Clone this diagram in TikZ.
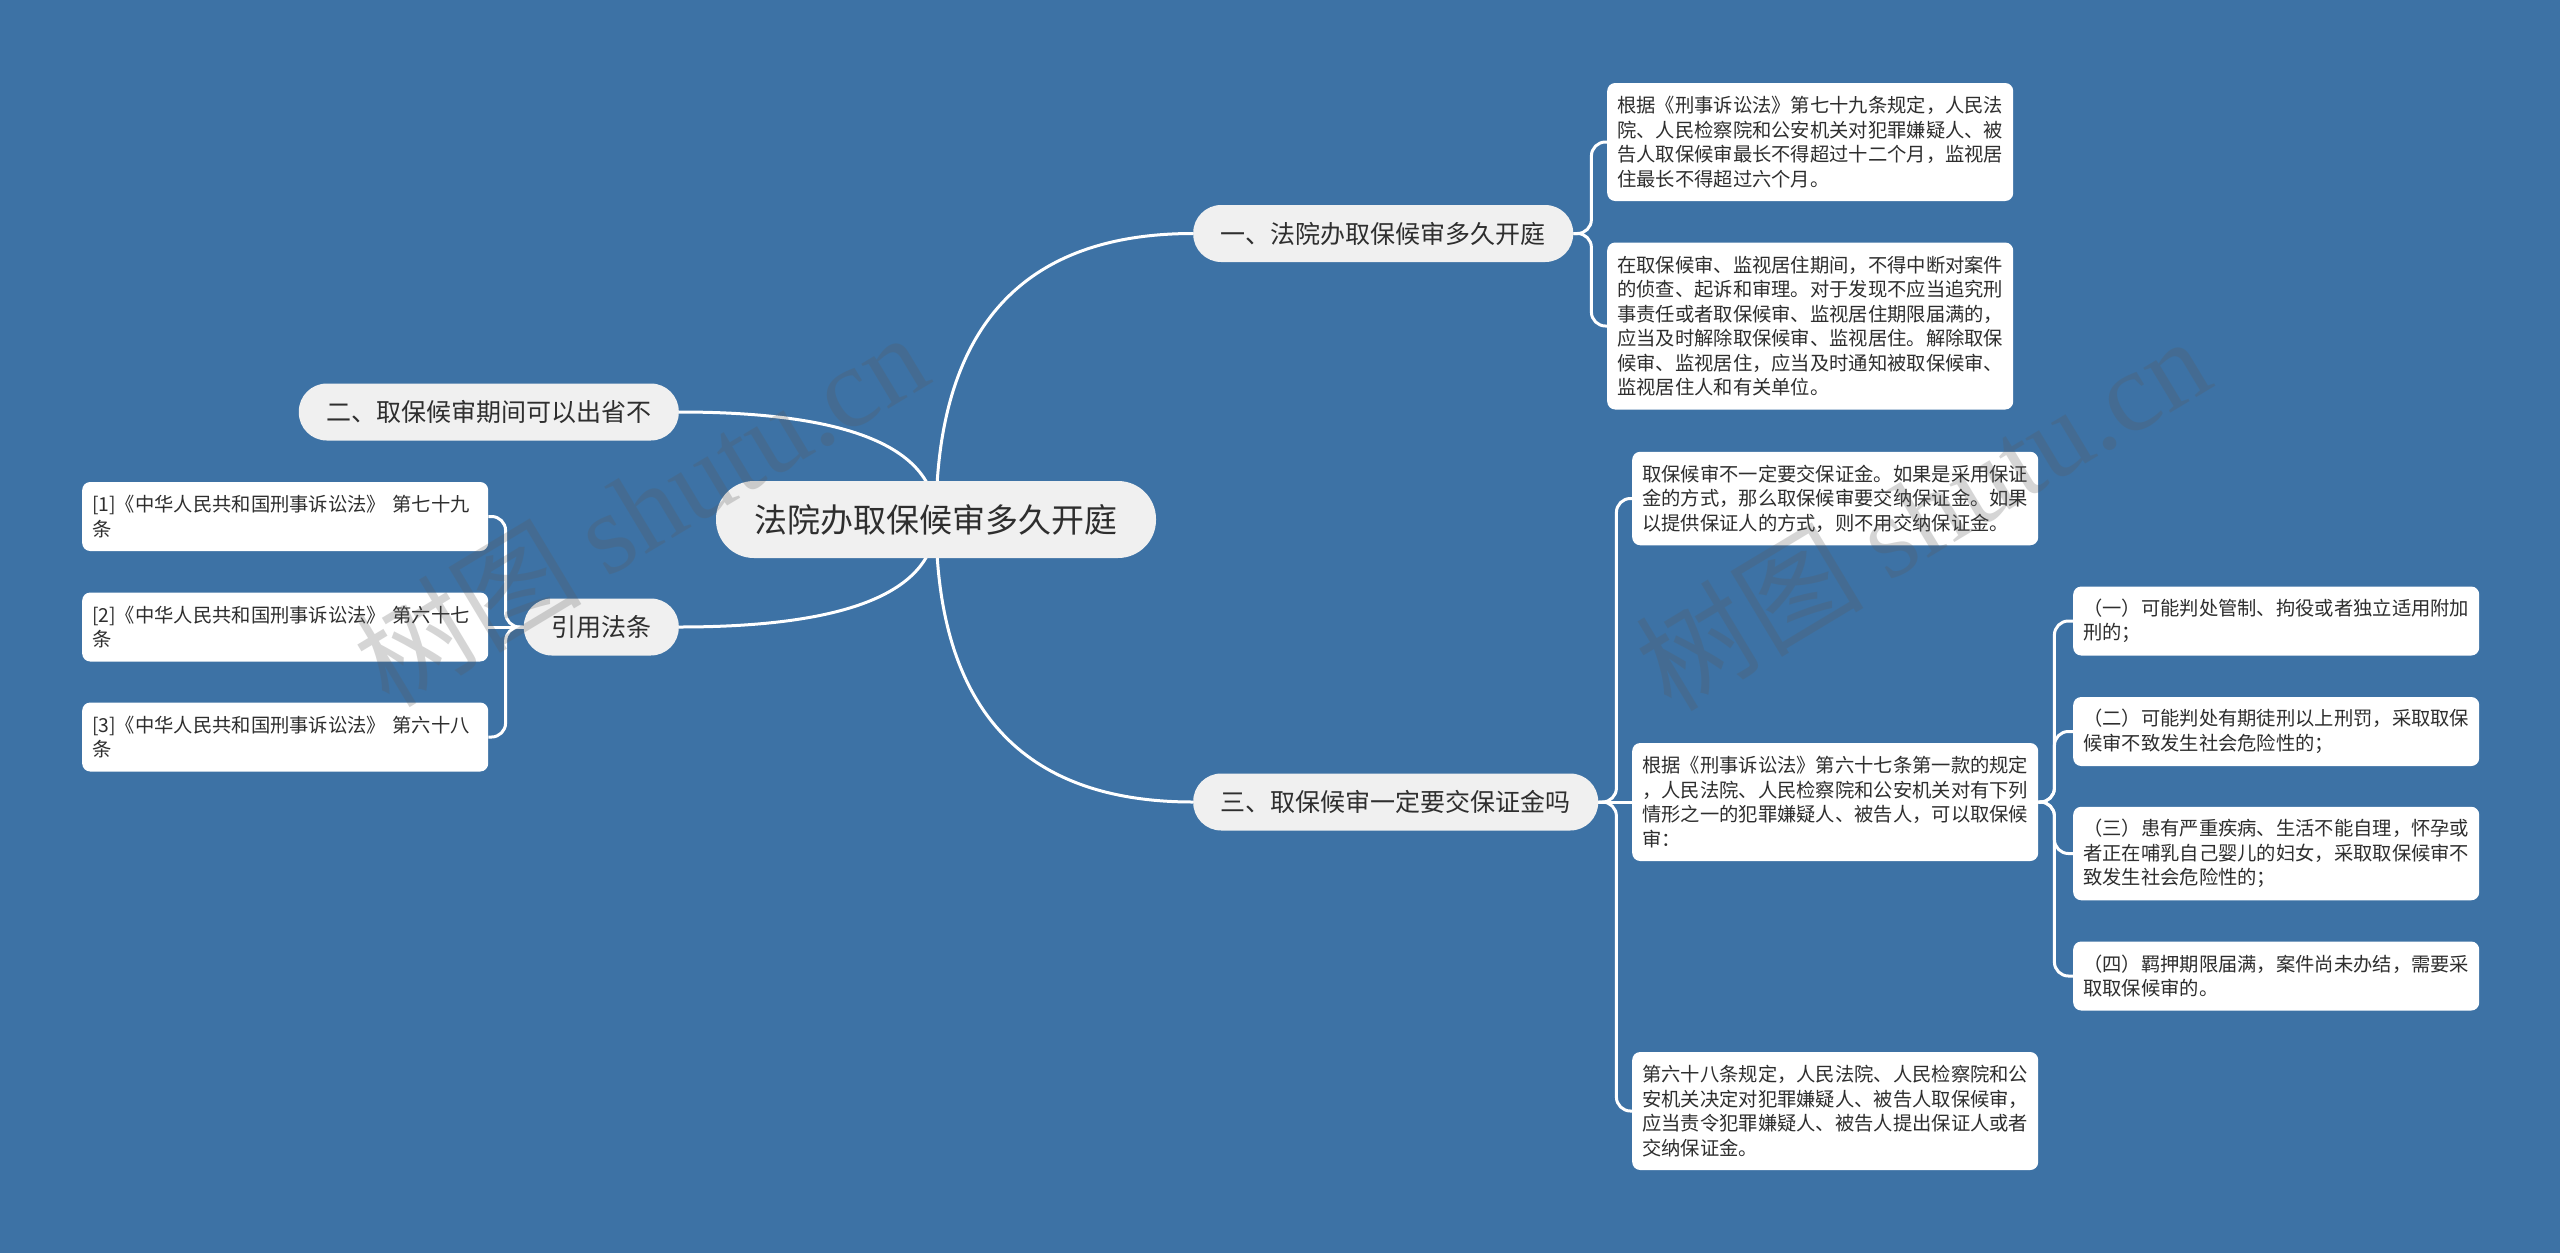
\documentclass[tikz,border=0pt]{standalone}
\usepackage{fontspec}
\setmainfont{Noto Sans CJK SC}
\newfontfamily\wmlat{Liberation Serif}
\usetikzlibrary{calc}
\definecolor{bgblue}{HTML}{3D72A5}
\definecolor{brfill}{HTML}{F0F0F0}
\definecolor{txt}{HTML}{2E2E2E}
\definecolor{wmgray}{HTML}{5A5A5A}
\pgfdeclarelayer{back}
\pgfdeclarelayer{edges}
\pgfsetlayers{back,edges,main}
\newcommand\leaffont{\fontsize{19.3}{24.5}\selectfont}
\newcommand\brfont{\fontsize{25}{30}\selectfont}
\newcommand\rootfont{\fontsize{33}{40}\selectfont}
\tikzset{
  leafbox/.style={fill=white, rounded corners=8, text width=386, inner xsep=10, inner ysep=4,
    align=left, anchor=west, font=\leaffont, text=txt, minimum height=#1*24.5+20},
  brbox/.style={fill=brfill, rounded corners=28, inner xsep=27.5, inner ysep=0,
    minimum height=57, font=\brfont, text=txt},
  rootbox/.style={fill=brfill, rounded corners=38, inner xsep=38.5, inner ysep=0,
    minimum height=77, font=\rootfont, text=txt},
  conn/.style={draw=white, line width=3},
  bracket/.style={conn, rounded corners=14},
  wm/.style={text=wmgray, opacity=0.25, rotate=31, font=\fontsize{114}{120}\selectfont}
}
\begin{document}
\begin{tikzpicture}[x=1pt,y=-1pt]
\useasboundingbox (0,0) rectangle (2560,1253);
\begin{pgfonlayer}{back}
\fill[bgblue] (0,0) rectangle (2560,1253);
\end{pgfonlayer}

% root and main branches
\node[rootbox] (root) at (936,519.5) {法院办取保候审多久开庭};
\node[brbox, anchor=west] (b1) at (1193,233.5) {一、法院办取保候审多久开庭};
\node[brbox, anchor=east] (b2) at (679,412) {二、取保候审期间可以出省不};
\node[brbox, anchor=east] (b3) at (679,627) {引用法条};
\node[brbox, anchor=west] (b4) at (1193,802) {三、取保候审一定要交保证金吗};

% leaves of branch 1
\node[leafbox=4] (l1a) at (1607,142) {根据《刑事诉讼法》第七十九条规定，人民法\\院、人民检察院和公安机关对犯罪嫌疑人、被\\告人取保候审最长不得超过十二个月，监视居\\住最长不得超过六个月。};
\node[leafbox=6] (l1b) at (1607,326) {在取保候审、监视居住期间，不得中断对案件\\的侦查、起诉和审理。对于发现不应当追究刑\\事责任或者取保候审、监视居住期限届满的，\\应当及时解除取保候审、监视居住。解除取保\\候审、监视居住，应当及时通知被取保候审、\\监视居住人和有关单位。};

% leaves of branch 3
\node[leafbox=3] (l4a) at (1632,498.5) {取保候审不一定要交保证金。如果是采用保证\\金的方式，那么取保候审要交纳保证金。如果\\以提供保证人的方式，则不用交纳保证金。};
\node[leafbox=4] (l4b) at (1632,802) {根据《刑事诉讼法》第六十七条第一款的规定\\，人民法院、人民检察院和公安机关对有下列\\情形之一的犯罪嫌疑人、被告人，可以取保候\\审：};
\node[leafbox=4] (l4c) at (1632,1111) {第六十八条规定，人民法院、人民检察院和公\\安机关决定对犯罪嫌疑人、被告人取保候审，\\应当责令犯罪嫌疑人、被告人提出保证人或者\\交纳保证金。};

% conditions
\node[leafbox=2] (c1) at (2073,621) {（一）可能判处管制、拘役或者独立适用附加\\刑的；};
\node[leafbox=2] (c2) at (2073,731.5) {（二）可能判处有期徒刑以上刑罚，采取取保\\候审不致发生社会危险性的；};
\node[leafbox=3] (c3) at (2073,853.5) {（三）患有严重疾病、生活不能自理，怀孕或\\者正在哺乳自己婴儿的妇女，采取取保候审不\\致发生社会危险性的；};
\node[leafbox=2] (c4) at (2073,976) {（四）羁押期限届满，案件尚未办结，需要采\\取取保候审的。};

% cited articles
\node[leafbox=2] (r1) at (82,516.5) {[1]《中华人民共和国刑事诉讼法》~第七十九\\条};
\node[leafbox=2] (r2) at (82,627) {[2]《中华人民共和国刑事诉讼法》~第六十七\\条};
\node[leafbox=2] (r3) at (82,737) {[3]《中华人民共和国刑事诉讼法》~第六十八\\条};

\begin{pgfonlayer}{edges}
\coordinate (q1) at (root.center |- b1.west);
\coordinate (q2) at (root.center |- b2.east);
\coordinate (q3) at (root.center |- b3.east);
\coordinate (q4) at (root.center |- b4.west);
\draw[conn] (root.center) .. controls ($(root.center)!0.667!(q1)$) and ($(b1.west)!0.667!(q1)$) .. (b1.west);
\draw[conn] (root.center) .. controls ($(root.center)!0.667!(q2)$) and ($(b2.east)!0.667!(q2)$) .. (b2.east);
\draw[conn] (root.center) .. controls ($(root.center)!0.667!(q3)$) and ($(b3.east)!0.667!(q3)$) .. (b3.east);
\draw[conn] (root.center) .. controls ($(root.center)!0.667!(q4)$) and ($(b4.west)!0.667!(q4)$) .. (b4.west);

\draw[bracket] (b1.east) -- ++(18,0) |- (l1a.west);
\draw[bracket] (b1.east) -- ++(18,0) |- (l1b.west);
\draw[bracket] (b4.east) -- ++(18,0) |- (l4a.west);
\draw[bracket] (b4.east) -- (l4b.west);
\draw[bracket] (b4.east) -- ++(18,0) |- (l4c.west);
\draw[bracket] (l4b.east) -- ++(16,0) |- (c1.west);
\draw[bracket] (l4b.east) -- ++(16,0) |- (c2.west);
\draw[bracket] (l4b.east) -- ++(16,0) |- (c3.west);
\draw[bracket] (l4b.east) -- ++(16,0) |- (c4.west);
\draw[bracket] (b3.west) -- ++(-18,0) |- (r1.east);
\draw[bracket] (b3.west) -- (r2.east);
\draw[bracket] (b3.west) -- ++(-18,0) |- (r3.east);
\end{pgfonlayer}

% watermarks
\node[wm] (wm1) at (640,508) {树图 {\wmlat shutu.cn}};
\node[wm] (wm2) at (1922,512) {树图 {\wmlat shutu.cn}};
\end{tikzpicture}
\end{document}
